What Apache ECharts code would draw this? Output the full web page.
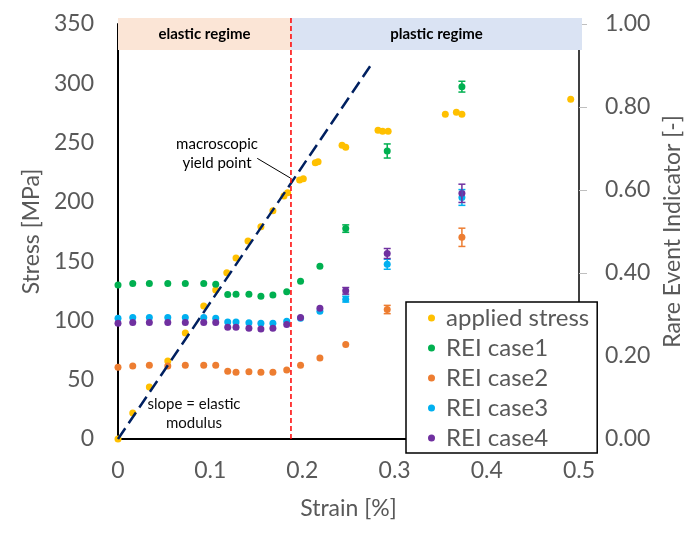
<!DOCTYPE html>
<html><head><meta charset="utf-8">
<script src="https://cdn.jsdelivr.net/npm/echarts@6/dist/echarts.min.js"></script>
<style>html,body{margin:0;padding:0;background:#fff}#c{width:694px;height:547px}</style>
</head><body><div id="c"></div>
<script>
// ---- data ----
const stressStrain = [0,0.016,0.034,0.054,0.073,0.093,0.106,0.118,0.128,0.141,0.155,0.168,0.180,0.184,0.197,0.201,0.214,0.217,0.243,0.247,0.282,0.287,0.293,0.355,0.367,0.373,0.491];
const stressValues = [0,21.9,43.9,65.8,89.4,112.2,125.7,140.3,152.7,167,179,192.5,205,207.7,218.4,219.5,233,233.9,247.7,246,260.4,259.5,259.5,273.9,275.5,273.9,286.5];

const reiStrain = [0,0.016,0.034,0.054,0.073,0.093,0.106,0.119,0.128,0.142,0.155,0.168,0.183,0.198,0.219,0.247,0.292,0.373];
const rei1 = [0.371,0.375,0.375,0.375,0.375,0.375,0.373,0.348,0.349,0.349,0.344,0.347,0.355,0.380,0.416,0.507,0.694,0.849];
const rei1Err = [0,0,0,0,0,0,0,0,0,0,0,0,0,0,0,0.009,0.017,0.013];
const rei2 = [0.173,0.176,0.178,0.176,0.178,0.178,0.178,0.163,0.161,0.162,0.161,0.161,0.166,0.178,0.195,0.228,0.312,0.486];
const rei2Err = [0,0,0,0,0,0,0,0,0,0,0,0,0,0,0,0,0.010,0.022];
const rei3 = [0.291,0.293,0.293,0.293,0.293,0.293,0.291,0.282,0.282,0.280,0.279,0.279,0.284,0.291,0.308,0.337,0.421,0.582];
const rei3Err = [0,0,0,0,0,0,0,0,0,0,0,0,0,0,0,0.007,0.012,0.019];
const rei4 = [0.279,0.281,0.281,0.281,0.281,0.281,0.281,0.269,0.269,0.267,0.265,0.267,0.276,0.293,0.315,0.357,0.447,0.592];
const rei4Err = [0,0,0,0,0,0,0,0,0,0,0,0,0,0,0,0.008,0.012,0.022];

const seriesNames = ['applied stress','REI case1','REI case2','REI case3','REI case4'];
const xTicks = [0,0.1,0.2,0.3,0.4,0.5];
const slopeLine = [[0,0],[0.2736,314.6]];
const yieldStrain = 0.1876;
const arrowFrom = [0.151,236.7];
const arrowTo = [0.1872,220];

// ---- styling ----
const FONT = 'Lato';
const GREY = '#595959';
const colors = ['#FFC000','#00B050','#ED7D31','#00B0F0','#7030A0'];
const zip = (xs, ys) => xs.map((x,i)=>[x, ys[i]]);

function errSeries(name, color, xs, ys, errs) {
  const data = [];
  xs.forEach((x,i)=>{ if (errs[i] > 0) data.push([x, ys[i]-errs[i], ys[i]+errs[i]]); });
  return {
    type:'custom', name: name+' err', yAxisIndex:1, data, z:3, silent:true,
    encode:{x:0, y:[1,2]},
    renderItem(params, api){
      const x = api.value(0);
      const lo = api.coord([x, api.value(1)]);
      const hi = api.coord([x, api.value(2)]);
      const w = 3.5;
      const style = {stroke: color, lineWidth: 1.5};
      return {type:'group', children:[
        {type:'line', shape:{x1:lo[0],y1:lo[1],x2:hi[0],y2:hi[1]}, style},
        {type:'line', shape:{x1:lo[0]-w,y1:lo[1],x2:lo[0]+w,y2:lo[1]}, style},
        {type:'line', shape:{x1:hi[0]-w,y1:hi[1],x2:hi[0]+w,y2:hi[1]}, style}
      ]};
    }
  };
}

function scatter(i, data, yAxisIndex){
  return {type:'scatter', name: seriesNames[i], yAxisIndex, data, symbol:'circle', symbolSize:7,
    itemStyle:{color: colors[i], opacity:1}, z:2 + i*0.1};
}

const chart = echarts.init(document.getElementById('c'));
const option = {
  animation:false,
  backgroundColor:'#fff',
  textStyle:{fontFamily:FONT},
  grid:{left:118, right:115, top:24, bottom:108, containLabel:false},
  legend:{
    data: seriesNames.map(n=>({name:n, icon:'circle'})),
    orient:'vertical', left:406, top:302,
    itemWidth:7, itemHeight:7, itemGap:6,
    padding:[4,8,3,22],
    backgroundColor:'#fff', borderColor:'#000', borderWidth:1.5,
    textStyle:{fontFamily:FONT, fontSize:24, color:GREY, lineHeight:24, padding:[0,0,0,6]},
    selectedMode:false, z:20
  },
  xAxis:{
    type:'value', min:0, max:0.5, interval:0.1,
    name:'Strain [%]', nameLocation:'middle', nameGap:58,
    nameTextStyle:{fontFamily:FONT, fontSize:23, color:GREY},
    axisLine:{show:true, onZero:false, lineStyle:{color:'#000', width:2}},
    axisTick:{show:false}, splitLine:{show:false},
    axisLabel:{fontFamily:FONT, fontSize:23, color:GREY, margin:20,
      formatter: v => (xTicks.find(t=>Math.abs(t-v)<1e-9) ?? v).toString()}
  },
  yAxis:[
    {type:'value', min:0, max:350, interval:50, position:'left',
     name:'Stress [MPa]', nameLocation:'middle', nameGap:73, nameRotate:90,
     nameTextStyle:{fontFamily:FONT, fontSize:23, color:GREY},
     axisLine:{show:true, onZero:false, lineStyle:{color:'#000', width:2}},
     axisTick:{show:false}, splitLine:{show:false},
     axisLabel:{fontFamily:FONT, fontSize:23, color:GREY, margin:24}},
    {type:'value', min:0, max:1, interval:0.2, position:'right',
     name:'Rare Event Indicator [-]', nameLocation:'middle', nameGap:82, nameRotate:90,
     nameTextStyle:{fontFamily:FONT, fontSize:23, color:GREY},
     axisLine:{show:true, onZero:false, lineStyle:{color:'#000', width:1.5}},
     axisTick:{show:true, inside:false, length:8, lineStyle:{color:'#BFBFBF', width:1}},
     splitLine:{show:false},
     axisLabel:{fontFamily:FONT, fontSize:23, color:GREY, margin:26, formatter:v=>v.toFixed(2)}}
  ],
  series:[
    scatter(0, zip(stressStrain, stressValues), 0),
    errSeries('REI case1', colors[1], reiStrain, rei1, rei1Err),
    errSeries('REI case2', colors[2], reiStrain, rei2, rei2Err),
    errSeries('REI case3', colors[3], reiStrain, rei3, rei3Err),
    errSeries('REI case4', colors[4], reiStrain, rei4, rei4Err),
    scatter(1, zip(reiStrain, rei1), 1),
    scatter(2, zip(reiStrain, rei2), 1),
    scatter(3, zip(reiStrain, rei3), 1),
    scatter(4, zip(reiStrain, rei4), 1),
    {type:'line', name:'elastic fit', yAxisIndex:0, data:slopeLine, symbol:'none', z:6, silent:true,
     lineStyle:{color:'#002060', width:2.5, type:[13,6]},
     markLine:{silent:true, symbol:['none','arrow'], symbolSize:[0,9], label:{show:false},
       lineStyle:{color:'#000', width:1, type:'solid'},
       data:[[{coord:arrowFrom},{coord:arrowTo}]]}}
  ]
};
chart.setOption(option);

// bands and yield line (annotations), positioned from the axes
const px0 = chart.convertToPixel({xAxisIndex:0}, 0);
const pxEnd = chart.convertToPixel({xAxisIndex:0}, 0.5) + 3;
const pxY = chart.convertToPixel({xAxisIndex:0}, yieldStrain);
const yTop = chart.convertToPixel({yAxisIndex:0}, 350) - 6;
const yBottomAxis = chart.convertToPixel({yAxisIndex:0}, 0);
const bandH = 32;
chart.setOption({graphic:[
  {type:'rect', z:100, shape:{x:px0, y:yTop, width:pxY-px0, height:bandH}, style:{fill:'#FBE5D6'}},
  {type:'rect', z:100, shape:{x:pxY, y:yTop, width:pxEnd-pxY, height:bandH}, style:{fill:'#DAE3F3'}},
  {type:'text', z:101, x:(px0+pxY)/2, y:yTop+bandH/2, style:{text:'elastic regime', fill:'#000', font:'bold 15px Lato', align:'center', verticalAlign:'middle'}},
  {type:'text', z:101, x:(pxY+pxEnd)/2, y:yTop+bandH/2, style:{text:'plastic regime', fill:'#000', font:'bold 15px Lato', align:'center', verticalAlign:'middle'}},
  {type:'line', z:102, shape:{x1:pxY, y1:yTop, x2:pxY, y2:yBottomAxis}, style:{stroke:'#FF0000', lineWidth:1.5, lineDash:[5,3]}},
  {type:'text', z:101, x:217, y:144, style:{text:'macroscopic', fill:'#000', font:'15px Lato', align:'center', verticalAlign:'middle'}},
  {type:'text', z:101, x:217, y:163, style:{text:'yield point', fill:'#000', font:'15px Lato', align:'center', verticalAlign:'middle'}},
  {type:'text', z:101, x:194, y:404, style:{text:'slope = elastic', fill:'#0d0d0d', font:'15px Lato', align:'center', verticalAlign:'middle'}},
  {type:'text', z:101, x:194, y:423, style:{text:'modulus', fill:'#0d0d0d', font:'15px Lato', align:'center', verticalAlign:'middle'}}
]});
</script>
</body></html>
